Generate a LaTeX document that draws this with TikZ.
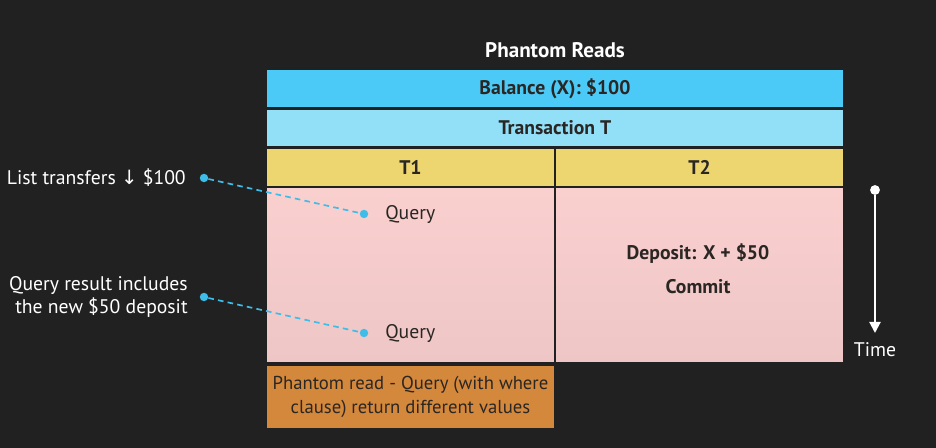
\documentclass[tikz,border=0pt]{standalone}
\usepackage{fontspec}
\setmainfont{PT Sans}
\newfontfamily\symfont{DejaVu Sans}
\usetikzlibrary{arrows.meta, positioning}

\definecolor{bgdark}{HTML}{212121}
\definecolor{balblue}{HTML}{4BC9F7}
\definecolor{txblue}{HTML}{92DFF8}
\definecolor{tyellow}{HTML}{EDD56F}
\definecolor{qpink}{HTML}{FAD0CF}
\definecolor{qpinkdark}{HTML}{EEC6C6}
\definecolor{phorange}{HTML}{D4883B}
\definecolor{linkblue}{HTML}{3EBDE8}
\definecolor{inkdark}{HTML}{2A2624}

\begin{document}
\begin{tikzpicture}[
    x=0.025cm, y=-0.025cm,
    >=Stealth,
    cell/.style={draw=bgdark, line width=2pt, outer sep=0pt,
                 minimum height=0.9875cm, inner sep=0pt, text=inkdark,
                 font=\fontsize{14}{17}\selectfont\bfseries},
    body/.style={draw=bgdark, line width=2pt, outer sep=0pt,
                 minimum width=7.225cm, minimum height=4.41cm, inner sep=0pt,
                 top color=qpink, bottom color=qpinkdark},
    bodytext/.style={text=inkdark, inner sep=0pt,
                     font=\fontsize{14}{17}\selectfont\bfseries},
    qtext/.style={text=inkdark, inner sep=0pt, anchor=west,
                  font=\fontsize{14}{17}\selectfont},
    lbl/.style={text=white, inner sep=0pt,
                font=\fontsize{14}{16.5}\selectfont},
    dot/.style={circle, fill=linkblue, minimum size=6pt, inner sep=0pt},
    link/.style={linkblue, line width=1.2pt, dash pattern=on 4pt off 3pt}
  ]
  \fill[bgdark] (0,0) rectangle (936,448);
  \useasboundingbox (0,0) rectangle (936,448);

  \node[text=white, font=\fontsize{15}{18}\selectfont\bfseries] (title)
    at (555,50) {Phantom Reads};

  % header rows
  \node[cell, fill=balblue, minimum width=14.45cm, minimum height=1cm]
    (bal) at (555,88.5) {Balance (X): \$100};
  \node[cell, fill=txblue, minimum width=14.45cm, minimum height=0.975cm,
        below=0pt of bal] (tx) {Transaction T};
  \node[cell, fill=tyellow, minimum width=7.225cm, anchor=north west] (t1)
    at (tx.south west) {T1};
  \node[cell, fill=tyellow, minimum width=7.225cm, anchor=north west] (t2)
    at (t1.north east) {T2};

  % transaction bodies
  \node[body, anchor=north west] (b1) at (t1.south west) {};
  \node[body, anchor=north west] (b2) at (t2.south west) {};
  \node[cell, fill=phorange, minimum width=7.225cm, minimum height=1.625cm,
        align=center, font=\fontsize{13.3}{17.5}\selectfont, anchor=north west]
    (note) at ([yshift=-0.025cm]b1.south west)
    {Phantom read - Query (with where\\clause) return different values};

  \node[dot] (q1dot) at (364,214) {};
  \node[qtext] (q1) at (385,215) {Query};
  \node[dot] (q2dot) at (364,333) {};
  \node[qtext] (q2) at (385,334) {Query};

  \node[bodytext] (dep) at (698,254) {Deposit: X + \$50};
  \node[bodytext] (commit) at (698,287) {Commit};

  % side notes
  \node[lbl, anchor=east] (lt) at (186,178)
    {List transfers {\symfont ↓} \$100};
  \node[lbl, anchor=east, align=right] (lq) at (188,297)
    {Query result includes\\the new \$50 deposit};
  \node[dot] (d1) at (204,178) {};
  \node[dot] (d2) at (204,297) {};
  \draw[link] (d1) -- (q1dot);
  \draw[link] (d2) -- (q2dot);

  % time axis
  \node[circle, fill=white, minimum size=7pt, inner sep=0pt] (tstart)
    at (875,190) {};
  \coordinate (tend) at (875,333);
  \draw[white, line width=1.5pt, -{Triangle[width=8pt, length=8pt]}]
    (tstart) -- (tend);
  \node[lbl] (time) at (875,350) {Time};
\end{tikzpicture}
\end{document}
